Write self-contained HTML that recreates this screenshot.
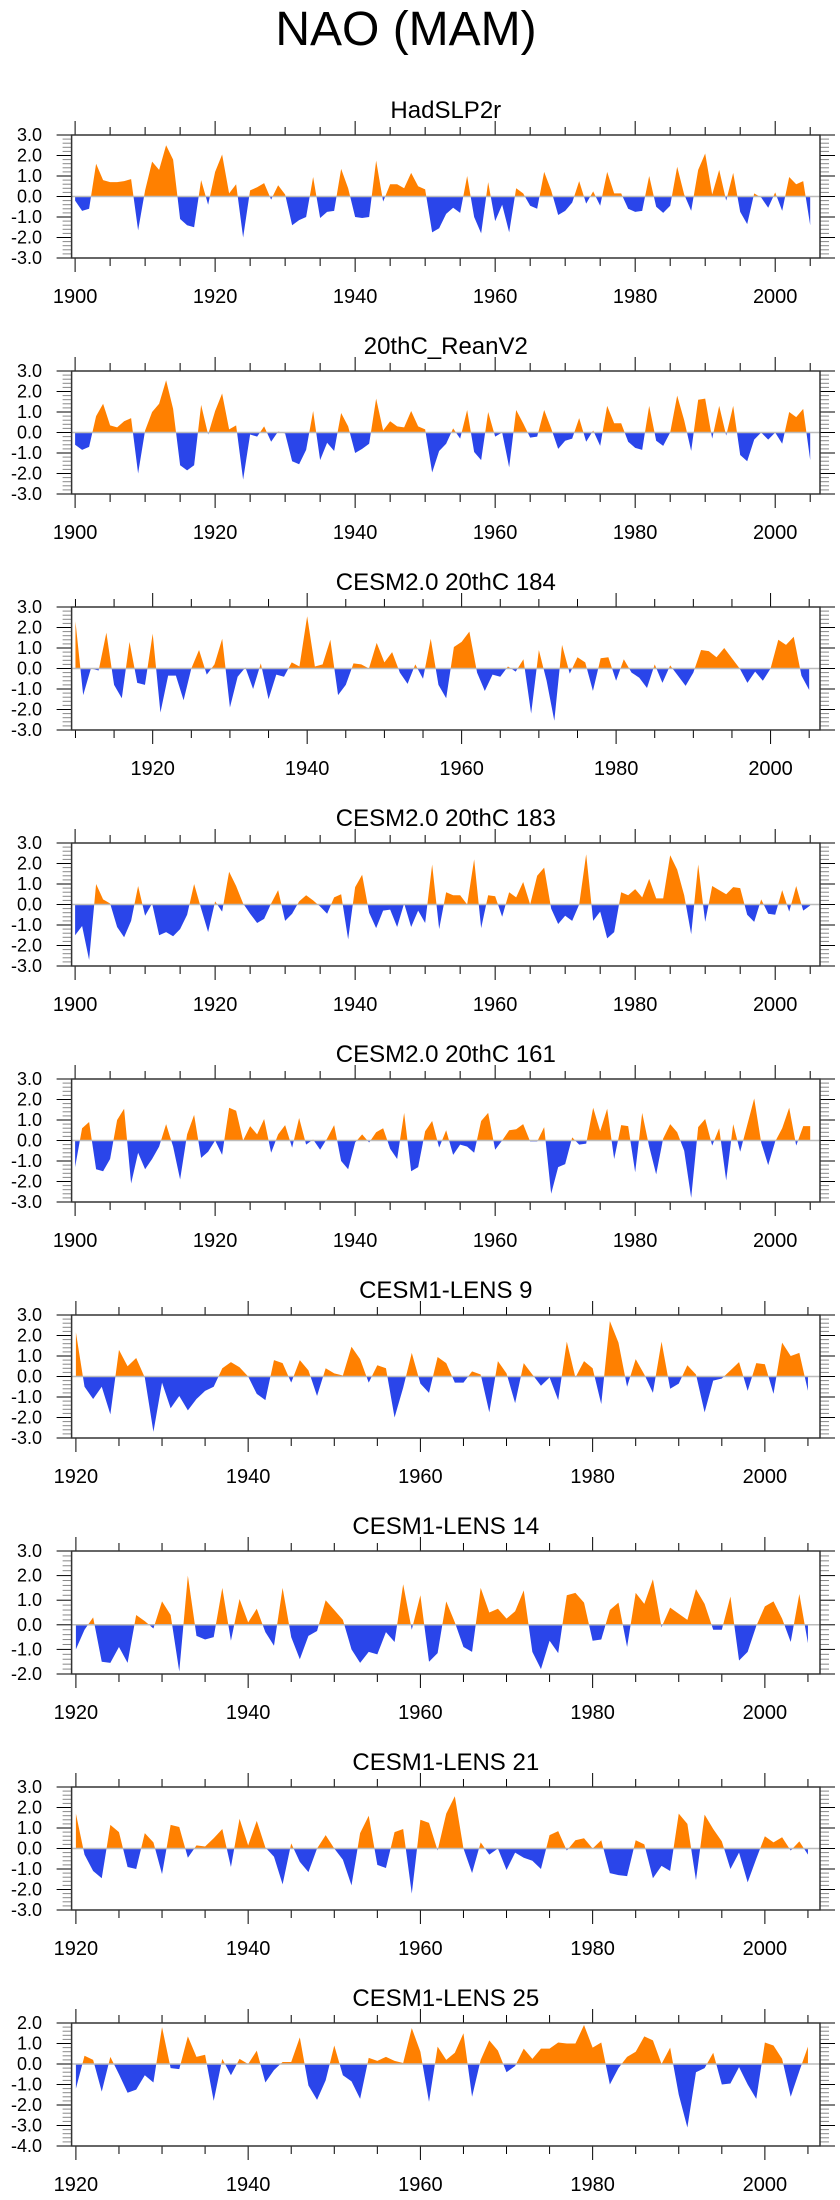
<!DOCTYPE html>
<html><head><meta charset="utf-8"><style>
html,body{margin:0;padding:0;background:#fff;width:840px;height:2200px;overflow:hidden}
svg{display:block;font-family:"Liberation Sans",sans-serif}
</style></head><body>
<svg id="chart" width="840" height="2200" viewBox="0 0 840 2200" xmlns="http://www.w3.org/2000/svg">
<text x="406" y="45" font-size="48" text-anchor="middle">NAO (MAM)</text>
</svg>
<script>
const hadslp2r=[-0.2,-0.7,-0.6,1.6,0.8,0.7,0.7,0.75,0.85,-1.65,0.3,1.7,1.3,2.5,1.8,-1.1,-1.4,-1.5,0.8,-0.4,1.2,2.05,0.15,0.6,-2.0,0.3,0.45,0.65,-0.15,0.55,0.1,-1.4,-1.15,-1.0,0.95,-1.05,-0.75,-0.7,1.35,0.4,-1.0,-1.05,-1.0,1.75,-0.25,0.6,0.6,0.4,1.15,0.5,0.35,-1.75,-1.55,-0.85,-0.55,-0.8,1.0,-1.0,-1.8,0.7,-1.2,-0.4,-1.75,0.4,0.15,-0.45,-0.6,1.2,0.3,-0.9,-0.7,-0.3,0.75,-0.35,0.25,-0.45,1.2,0.15,0.15,-0.6,-0.75,-0.7,1.0,-0.5,-0.8,-0.45,1.45,0.1,-0.7,1.3,2.1,0.1,1.3,-0.2,1.15,-0.75,-1.35,0.15,-0.05,-0.55,0.2,-0.7,0.95,0.6,0.75,-1.4];
const reanV2=[-0.6,-0.85,-0.7,0.8,1.4,0.35,0.25,0.55,0.7,-2.0,0.1,1.0,1.4,2.55,1.15,-1.6,-1.85,-1.6,1.35,-0.1,1.05,1.9,0.15,0.35,-2.3,-0.1,-0.2,0.3,-0.45,0.05,-0.05,-1.4,-1.55,-0.85,1.05,-1.35,-0.5,-0.9,0.95,0.3,-1.0,-0.8,-0.55,1.65,0.1,0.55,0.3,0.25,1.05,0.3,0.15,-1.95,-0.9,-0.55,0.2,-0.3,1.1,-0.95,-1.35,1.0,-0.2,0.0,-1.7,1.1,0.45,-0.25,-0.2,1.1,0.2,-0.8,-0.4,-0.3,0.7,-0.45,0.1,-0.65,1.3,0.45,0.45,-0.45,-0.75,-0.85,1.3,-0.4,-0.65,0.0,1.8,0.6,-0.9,1.6,1.65,-0.3,1.3,-0.15,1.3,-1.1,-1.4,-0.35,0.0,-0.35,0.0,-0.55,1.0,0.75,1.15,-1.35];
const cesm2_184=[2.3,-1.3,0.0,-0.1,1.75,-0.8,-1.45,1.3,-0.7,-0.8,1.7,-2.15,-0.35,-0.35,-1.55,0.0,0.9,-0.3,0.2,1.45,-1.9,-0.4,0.05,-1.0,0.25,-1.5,-0.3,-0.4,0.3,0.1,2.55,0.1,0.2,1.4,-1.3,-0.8,0.25,0.2,0.0,1.25,0.3,0.8,-0.2,-0.75,0.2,-0.5,1.45,-0.8,-1.45,1.05,1.3,1.8,-0.2,-1.1,-0.3,-0.4,0.1,-0.15,0.45,-2.2,0.9,-0.6,-2.55,1.15,-0.25,0.55,0.3,-1.1,0.5,0.55,-0.6,0.45,-0.2,-0.45,-0.95,0.2,-0.7,0.15,-0.35,-0.85,-0.2,0.9,0.85,0.55,1.0,0.5,0.0,-0.7,-0.15,-0.6,0.0,1.4,1.15,1.55,-0.35,-1.05];
const cesm2_183=[-1.5,-1.05,-2.7,1.0,0.25,0.05,-1.1,-1.6,-0.8,0.9,-0.55,0.05,-1.5,-1.35,-1.55,-1.2,-0.5,1.0,-0.2,-1.35,0.15,-0.35,1.6,0.9,0.05,-0.45,-0.9,-0.7,0.05,0.7,-0.8,-0.45,0.15,0.45,0.2,-0.1,-0.45,0.35,0.5,-1.7,0.85,1.45,-0.4,-1.15,-0.3,-0.25,-1.1,0.05,-1.1,-0.3,-0.9,1.95,-1.2,0.6,0.45,0.45,0.0,2.2,-1.15,0.45,0.4,-0.6,0.6,0.35,1.1,0.0,1.4,1.8,-0.2,-0.95,-0.55,-0.8,0.0,2.45,-0.8,-0.35,-1.65,-1.35,0.6,0.45,0.75,0.35,1.25,0.3,0.3,2.4,1.7,0.45,-1.45,1.95,-0.85,0.9,0.7,0.5,0.85,0.8,-0.5,-0.85,0.25,-0.45,-0.5,0.7,-0.35,0.9,-0.3,-0.05];
const cesm2_161=[-1.3,0.6,0.9,-1.4,-1.5,-0.9,1.0,1.55,-2.1,-0.6,-1.4,-0.9,-0.3,0.8,-0.3,-1.9,0.3,1.25,-0.85,-0.55,0.0,-0.7,1.6,1.45,0.0,0.7,0.3,1.05,-0.6,0.3,0.75,-0.35,1.1,-0.2,0.05,-0.45,0.1,0.75,-1.0,-1.4,-0.1,0.3,-0.1,0.4,0.6,-0.4,-0.9,1.35,-1.5,-1.3,0.45,0.95,-0.35,0.5,-0.7,-0.2,-0.3,-0.6,0.95,1.35,-0.45,0.0,0.5,0.55,0.8,-0.05,-0.05,0.65,-2.6,-1.3,-1.15,0.15,-0.2,-0.15,1.6,0.45,1.55,-0.9,0.75,0.7,-1.55,1.35,-0.3,-1.65,0.1,0.8,0.4,-0.5,-2.8,0.65,1.05,-0.25,0.6,-1.95,0.8,-0.55,0.75,2.05,-0.1,-1.2,-0.05,0.6,1.6,-0.25,0.7,0.7];
const lens9=[2.15,-0.5,-1.1,-0.5,-1.85,1.3,0.5,0.9,-0.05,-2.7,-0.3,-1.55,-0.95,-1.65,-1.1,-0.7,-0.5,0.4,0.7,0.45,0.0,-0.85,-1.15,0.8,0.65,-0.3,0.8,0.3,-0.95,0.4,0.15,0.05,1.45,0.85,-0.3,0.55,0.4,-2.0,-0.55,1.15,-0.35,-0.8,0.95,0.65,-0.3,-0.3,0.25,0.1,-1.75,0.75,0.15,-1.3,0.65,0.1,-0.45,-0.05,-1.15,1.7,-0.05,0.75,0.4,-1.35,2.7,1.65,-0.5,0.85,0.1,-0.8,1.7,-0.6,-0.35,0.55,0.1,-1.75,-0.2,-0.1,0.3,0.7,-0.7,0.65,0.6,-0.85,1.65,1.0,1.15,-0.7];
const lens14=[-1.0,-0.2,0.3,-1.5,-1.55,-0.9,-1.55,0.4,0.15,-0.15,0.95,0.4,-1.9,2.0,-0.45,-0.6,-0.5,1.5,-0.65,1.05,0.1,0.65,-0.3,-0.85,1.5,-0.5,-1.4,-0.45,-0.25,1.0,0.6,0.2,-1.0,-1.55,-1.1,-1.2,-0.3,-0.7,1.65,-0.2,1.2,-1.5,-1.15,0.95,0.1,-0.9,-1.1,1.5,0.5,0.65,0.25,0.55,1.4,-1.1,-1.8,-0.65,-1.15,1.2,1.3,0.9,-0.65,-0.6,0.6,0.9,-0.9,1.3,0.85,1.85,-0.1,0.7,0.45,0.2,1.45,0.85,-0.2,-0.2,1.15,-1.45,-1.1,-0.05,0.75,0.95,0.25,-0.7,1.25,-0.75];
const lens21=[1.7,-0.3,-1.1,-1.45,1.15,0.8,-0.9,-1.0,0.75,0.3,-1.25,1.15,1.05,-0.45,0.15,0.1,0.5,0.95,-0.9,1.45,0.15,1.35,0.05,-0.4,-1.75,0.25,-0.65,-1.15,0.0,0.65,0.0,-0.55,-1.8,0.75,1.6,-0.8,-0.95,0.8,0.95,-2.2,1.4,1.25,-0.1,1.7,2.55,0.0,-1.2,0.3,-0.3,0.0,-1.05,-0.2,-0.45,-0.6,-1.0,0.65,0.85,-0.1,0.4,0.5,0.0,0.4,-1.2,-1.3,-1.35,0.4,0.2,-1.45,-0.85,-1.1,1.7,1.2,-1.55,1.65,0.95,0.35,-1.0,-0.2,-1.65,-0.5,0.6,0.3,0.55,-0.1,0.35,-0.3];
const lens25=[-1.2,0.4,0.2,-1.35,0.35,-0.5,-1.4,-1.25,-0.55,-0.9,1.8,-0.2,-0.25,1.35,0.35,0.45,-1.8,0.25,-0.55,0.25,0.0,0.65,-0.9,-0.3,0.1,0.1,1.3,-1.05,-1.75,-0.8,0.9,-0.55,-0.85,-1.7,0.3,0.15,0.35,0.15,0.05,1.75,0.6,-1.85,0.85,0.2,0.55,1.5,-1.6,0.2,1.15,0.65,-0.4,-0.1,0.75,0.25,0.75,0.75,1.05,1.0,1.0,1.9,0.8,1.05,-1.0,-0.2,0.35,0.6,1.35,1.15,0.0,0.8,-1.5,-3.1,-0.4,-0.2,0.55,-1.0,-0.95,-0.15,-1.0,-1.7,1.05,0.9,0.25,-1.6,-0.35,0.85];
const panelTitles=["HadSLP2r","20thC_ReanV2","CESM2.0 20thC 184","CESM2.0 20thC 183","CESM2.0 20thC 161","CESM1-LENS 9","CESM1-LENS 14","CESM1-LENS 21","CESM1-LENS 25"];
const panelSeries=[hadslp2r,reanV2,cesm2_184,cesm2_183,cesm2_161,lens9,lens14,lens21,lens25];
const startYears=[1900,1900,1910,1900,1900,1920,1920,1920,1920];
const yMins=[-3,-3,-3,-3,-3,-3,-2,-3,-4];
const yMaxs=[3,3,3,3,3,3,3,3,2];
const xTickYears=[1900,1920,1940,1960,1980,2000];

const NS="http://www.w3.org/2000/svg";
const svg=document.getElementById('chart');
function mk(tag,attrs,parent){const e=document.createElementNS(NS,tag);for(const k in attrs)e.setAttribute(k,attrs[k]);(parent||svg).appendChild(e);return e;}
const L=71.6,R=820,H=123;
panelSeries.forEach((vals,i)=>{
  const top=135+236*i,bot=top+H;
  const x0=startYears[i]-0.5,x1=2006.4;
  const xs=y=>L+(y-x0)/(x1-x0)*(R-L);
  const ys=v=>bot-(v-yMins[i])/(yMaxs[i]-yMins[i])*H;
  const g=mk('g',{});
  
  
  const t=mk('text',{x:(L+R)/2,y:top-17,'font-size':24,'text-anchor':'middle'},g);
  
  
  t.textContent=panelTitles[i];
  const z=ys(0);
  // clips
  const cu=mk('clipPath',{id:'cu'+i},g);mk('rect',{x:L,y:top,width:R-L,height:z-top},cu);
  const cd=mk('clipPath',{id:'cd'+i},g);mk('rect',{x:L,y:z,width:R-L,height:bot-z},cd);
  let d='M'+xs(startYears[i])+','+z;
  vals.forEach((v,k)=>{d+=' L'+xs(startYears[i]+k).toFixed(2)+','+ys(v).toFixed(2);});
  d+=' L'+xs(startYears[i]+vals.length-1)+','+z+' Z';
  const pu=mk('path',{d:d,fill:'#ff8000','clip-path':'url(#cu'+i+')'},g);
  
  
  const pd=mk('path',{d:d,fill:'#2a45ea','clip-path':'url(#cd'+i+')'},g);
  
  
  const zl=mk('line',{x1:L,x2:R,y1:z,y2:z,stroke:'#bbb','stroke-width':1.5},g);
  
  
  // x ticks
  for(let y=Math.ceil(x0/5)*5;y<=x1;y+=5){
    const X=xs(y),maj=y%20===0,len=maj?14:8;
    mk('line',{x1:X,x2:X,y1:bot,y2:bot+len,stroke:'#000','stroke-width':1},g);
    mk('line',{x1:X,x2:X,y1:top,y2:top-len,stroke:'#000','stroke-width':1},g);
  }
  xTickYears.forEach(y=>{
    if(y<x0)return;
    const lb=mk('text',{x:xs(y),y:bot+45,'font-size':20,'text-anchor':'middle'},g);
    
    
    lb.textContent=y;
  });
  // y ticks
  for(let v=yMins[i];v<=yMaxs[i]+1e-6;v+=0.2){
    const Y=ys(v),maj=Math.abs(v-Math.round(v))<1e-6,len=maj?15:9;
    const c=maj?'#000':'#888';
    mk('line',{x1:L,x2:L-len,y1:Y,y2:Y,stroke:c,'stroke-width':1},g);
    mk('line',{x1:R,x2:R+len,y1:Y,y2:Y,stroke:c,'stroke-width':1},g);
  }
  for(let v=yMins[i];v<=yMaxs[i];v++){
    const lb=mk('text',{x:42,y:ys(v)+6,'font-size':18,'text-anchor':'end'},g);
    
    
    lb.textContent=v.toFixed(1);
  }
  const fr=mk('rect',{x:L,y:top,width:R-L,height:H,fill:'none',stroke:'#333','stroke-width':1.5},g);
  
  
});
</script>
</body></html>
